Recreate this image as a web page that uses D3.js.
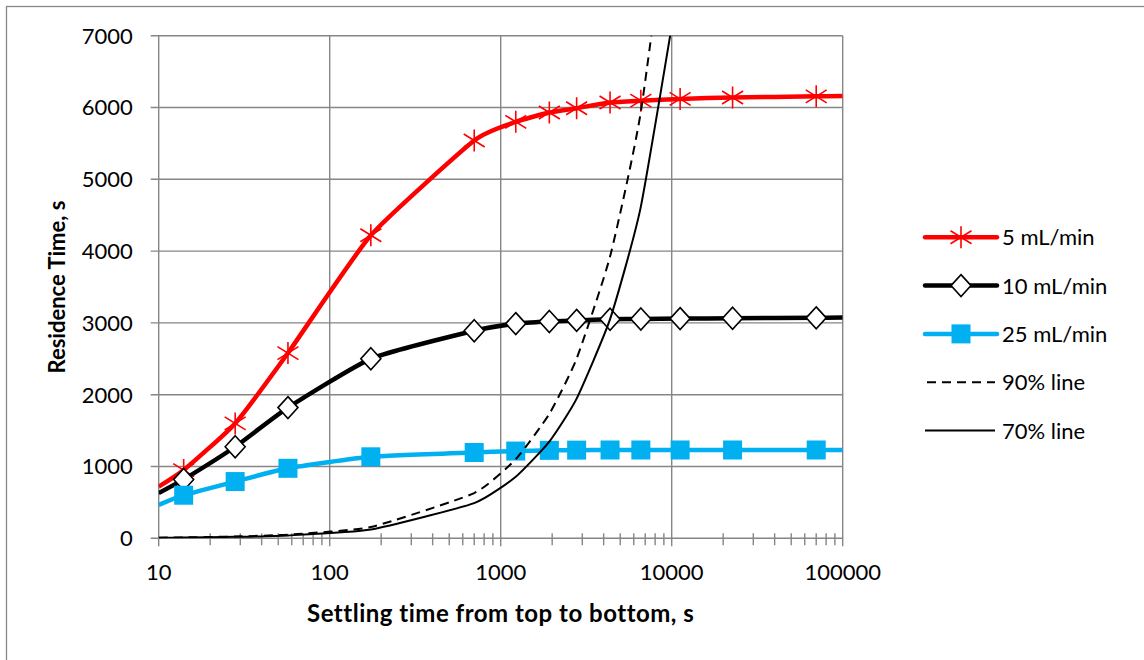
<!DOCTYPE html>
<html>
<head>
<meta charset="utf-8">
<script src="https://cdn.jsdelivr.net/npm/d3@7"></script>
<style>
  body { margin: 0; background: #fff; }
  text { font-family: Lato, "Liberation Sans", sans-serif; fill: #000; }
</style>
</head>
<body>
<script>
// settling times (s) where each smoothed series has a point
const lineTimes = [10, 14, 28, 57, 174, 700, 1225, 1925, 2780, 4360, 6600, 11200, 22700, 70000, 100000];
// marked points (the line runs on to both axis ends without markers)
const markerTimes = [14, 28, 57, 174, 700, 1225, 1925, 2780, 4360, 6600, 11200, 22700, 70000];

const rate5 = [720, 950, 1600, 2580, 4220, 5540, 5800, 5930, 5990, 6070, 6095, 6120, 6140, 6155, 6160];
const rate10 = [630, 820, 1275, 1820, 2500, 2890, 2990, 3020, 3035, 3050, 3055, 3060, 3065, 3070, 3075];
const rate25 = [465, 600, 790, 975, 1135, 1195, 1215, 1225, 1228, 1230, 1230, 1230, 1230, 1230, 1230];

// reference lines
const refTimes = [10, 14, 28, 57, 174, 700, 1225, 1925, 2780, 4360, 6600, 11200];
const line90 = [9, 13, 25, 51, 157, 630, 1103, 1733, 2502, 3924, 5940, 10080];
const line70 = [7, 10, 20, 40, 122, 490, 858, 1348, 1946, 3052, 4620, 7840];

const xTicks = [10, 100, 1000, 10000, 100000];
const yTicks = [0, 1000, 2000, 3000, 4000, 5000, 6000, 7000];

const seriesNames = ["5 mL/min", "10 mL/min", "25 mL/min", "90% line", "70% line"];

const grey = "#868686";
const margin = { top: 35.7, left: 158.7 },
    width = 684,
    height = 502.6;

const svg = d3.select("body")
    .append("svg")
    .attr("width", 1144)
    .attr("height", 660);

// outer chart border
svg.append("rect")
    .attr("x", 6.5).attr("y", 6.5)
    .attr("width", 1200).attr("height", 700)
    .attr("fill", "none")
    .attr("stroke", grey)
    .attr("stroke-width", 1.3);

const g = svg.append("g")
    .attr("transform", "translate(" + margin.left + "," + margin.top + ")");

const x = d3.scaleLog().domain([10, 100000]).range([0, width]);
const y = d3.scaleLinear().domain([0, 7000]).range([height, 0]);

g.append("defs").append("clipPath")
    .attr("id", "plotclip")
    .append("rect")
    .attr("x", 0).attr("y", 0)
    .attr("width", width).attr("height", height);

// grid
g.append("g")
    .selectAll("line")
    .data(yTicks)
    .join("line")
    .attr("x1", -8).attr("x2", width)
    .attr("y1", d => y(d)).attr("y2", d => y(d))
    .attr("stroke", grey).attr("stroke-width", 1.4);

g.append("g")
    .selectAll("line")
    .data(xTicks)
    .join("line")
    .attr("x1", d => x(d)).attr("x2", d => x(d))
    .attr("y1", 0).attr("y2", height + 8)
    .attr("stroke", grey).attr("stroke-width", 1.4);

// minor ticks on the x axis
const minor = x.ticks().filter(d => !xTicks.includes(d));
g.append("g")
    .selectAll("line")
    .data(minor)
    .join("line")
    .attr("x1", d => x(d)).attr("x2", d => x(d))
    .attr("y1", height - 5).attr("y2", height + 7)
    .attr("stroke", grey).attr("stroke-width", 1.4);

// tick labels
g.append("g")
    .selectAll("text")
    .data(yTicks)
    .join("text")
    .attr("x", -26)
    .attr("y", d => y(d) + 8)
    .attr("text-anchor", "end")
    .style("font-size", "22px")
    .text(d => d);

g.append("g")
    .selectAll("text")
    .data(xTicks)
    .join("text")
    .attr("x", d => x(d))
    .attr("y", height + 42)
    .attr("text-anchor", "middle")
    .style("font-size", "22px")
    .text(d => d);

// axis titles
svg.append("text")
    .attr("x", margin.left + width / 2)
    .attr("y", 621.5)
    .attr("text-anchor", "middle")
    .attr("font-weight", 700)
    .style("font-size", "24px")
    .style("letter-spacing", "0.5px")
    .text("Settling time from top to bottom, s");

svg.append("text")
    .attr("transform", "translate(65," + (margin.top + height / 2) + ") rotate(-90)")
    .attr("text-anchor", "middle")
    .attr("font-weight", 700)
    .style("font-size", "22px")
    .text("Residence Time, s");

const smooth = d3.line()
    .x(d => x(d[0]))
    .y(d => y(d[1]))
    .curve(d3.curveCardinal.tension(0.5));

const plot = g.append("g").attr("clip-path", "url(#plotclip)");

const starPath = "M0,-11L0,11M-10.5,-6.5L10.5,6.5M-10.5,6.5L10.5,-6.5";
const diamondPath = "M0,-11L10,0L0,11L-10,0Z";

const series = [
    { name: seriesNames[0], vals: rate5, color: "#FF0000", marker: "star" },
    { name: seriesNames[1], vals: rate10, color: "#000000", marker: "diamond" },
    { name: seriesNames[2], vals: rate25, color: "#00B0F0", marker: "square" }
];

function drawMarker(sel, s) {
    if (s.marker === "star") {
        sel.append("path").attr("d", starPath)
            .attr("stroke", s.color).attr("stroke-width", 1.6).attr("fill", "none");
    } else if (s.marker === "diamond") {
        sel.append("path").attr("d", diamondPath)
            .attr("stroke", s.color).attr("stroke-width", 1.6).attr("fill", "#fff");
    } else {
        sel.append("rect").attr("x", -9.5).attr("y", -9.5)
            .attr("width", 19).attr("height", 19)
            .attr("fill", s.color);
    }
}

series.forEach(s => {
    plot.append("path")
        .datum(lineTimes.map((t, i) => [t, s.vals[i]]))
        .attr("d", smooth)
        .attr("fill", "none")
        .attr("stroke", s.color)
        .attr("stroke-width", 4.5)
        .attr("stroke-linejoin", "round");
    markerTimes.forEach(t => {
        const v = s.vals[lineTimes.indexOf(t)];
        const m = plot.append("g")
            .attr("transform", "translate(" + x(t) + "," + y(v) + ")");
        drawMarker(m, s);
    });
});

plot.append("path")
    .datum(refTimes.map((t, i) => [t, line90[i]]))
    .attr("d", smooth)
    .attr("fill", "none")
    .attr("stroke", "#000")
    .attr("stroke-width", 2)
    .attr("stroke-dasharray", "9,6");

plot.append("path")
    .datum(refTimes.map((t, i) => [t, line70[i]]))
    .attr("d", smooth)
    .attr("fill", "none")
    .attr("stroke", "#000")
    .attr("stroke-width", 2);

// legend
const legend = svg.append("g").attr("transform", "translate(925,237.3)");
const legendStyles = [
    { color: "#FF0000", w: 4.5, dash: null, s: series[0] },
    { color: "#000000", w: 4.5, dash: null, s: series[1] },
    { color: "#00B0F0", w: 4.5, dash: null, s: series[2] },
    { color: "#000000", w: 2, dash: "9,6", s: null },
    { color: "#000000", w: 2, dash: null, s: null }
];
seriesNames.forEach((name, i) => {
    const row = legend.append("g").attr("transform", "translate(0," + i * 48.3 + ")");
    const st = legendStyles[i];
    row.append("line")
        .attr("x1", st.dash ? 2 : 0).attr("x2", st.s ? 72 : 70)
        .attr("y1", 0).attr("y2", 0)
        .attr("stroke", st.color)
        .attr("stroke-width", st.w)
        .attr("stroke-linecap", st.s ? "round" : "butt")
        .attr("stroke-dasharray", st.dash);
    if (st.s) {
        const m = row.append("g").attr("transform", "translate(36,0)");
        drawMarker(m, st.s);
    }
    row.append("text")
        .attr("x", 77)
        .attr("y", 8)
        .style("font-size", "22px")
        .text(name);
});
</script>
</body>
</html>
